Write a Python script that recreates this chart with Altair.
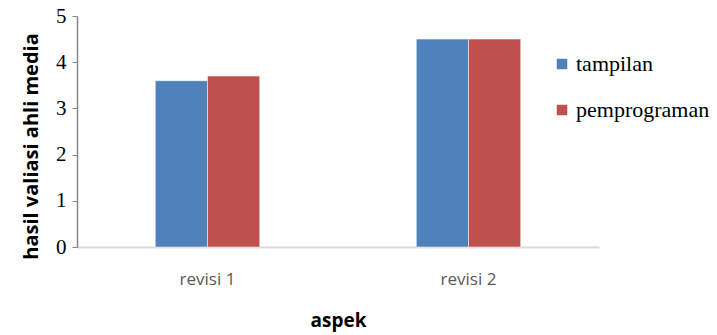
import altair as alt
import pandas as pd

categories = ["revisi 1", "revisi 2"]
series = ["tampilan", "pemprograman"]
tampilan = [3.6, 4.5]
pemprograman = [3.7, 4.5]

rows = []
for i, c in enumerate(categories):
    rows.append({"aspek": c, "seri": series[0], "nilai": tampilan[i]})
    rows.append({"aspek": c, "seri": series[1], "nilai": pemprograman[i]})
df = pd.DataFrame(rows)

chart = alt.Chart(df).mark_bar(stroke="white", strokeWidth=0.5).encode(
    x=alt.X("aspek:N", sort=categories,
            scale=alt.Scale(paddingInner=0.6, paddingOuter=0.3),
            axis=alt.Axis(title="aspek", labelAngle=0, ticks=False,
                          domainColor="#d9d9d9", domainWidth=2,
                          labelFont="Open Sans", labelFontSize=17, labelColor="#595959",
                          labelPadding=24,
                          titleFont="Open Sans", titleFontSize=19, titleFontWeight="bold",
                          titleColor="#000000", titlePadding=24)),
    xOffset=alt.XOffset("seri:N", sort=series),
    y=alt.Y("nilai:Q", scale=alt.Scale(domain=[0, 5]),
            axis=alt.Axis(title="hasil valiasi ahli media", values=[0, 1, 2, 3, 4, 5],
                          grid=False, domainColor="#868686", tickColor="#868686",
                          tickSize=5, domainWidth=1.5,
                          labelFont="Liberation Serif", labelFontSize=21, labelColor="#000000",
                          labelPadding=6,
                          titleFont="Open Sans", titleFontSize=20, titleFontWeight="bold",
                          titleColor="#000000", titlePadding=14, titleY=130)),
    color=alt.Color("seri:N", sort=series,
                    scale=alt.Scale(domain=series, range=["#4F81BD", "#C0504D"]),
                    legend=alt.Legend(title=None, orient="none", legendX=474, legendY=37,
                                      symbolType="square", symbolSize=110,
                                      symbolStrokeWidth=0, labelFont="Liberation Serif",
                                      labelFontSize=22, labelColor="#000000",
                                      rowPadding=24, labelOffset=3)),
).properties(
    width=522, height=231,
    padding={"left": 77, "top": 16, "right": 118, "bottom": 88},
    autosize=alt.AutoSizeParams(type="none"),
).configure_view(stroke=None)

chart.save("out.html", embed_options={"renderer": "svg", "actions": False})
